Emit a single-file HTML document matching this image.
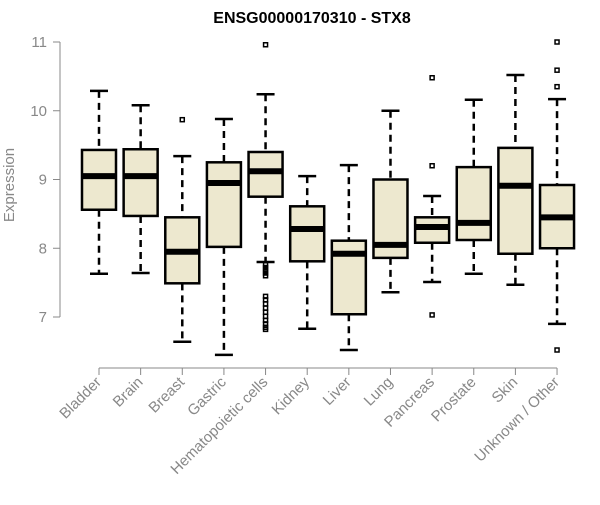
<!DOCTYPE html>
<html><head><meta charset="utf-8"><style>
body{margin:0;background:#fff}
svg{font-family:"Liberation Sans",Arial,sans-serif}
</style></head><body>
<svg id="c" width="600" height="500">
<text x="312" y="23" text-anchor="middle" font-weight="bold" font-size="16">ENSG00000170310 - STX8</text>
<text transform="translate(14,185) rotate(-90)" text-anchor="middle" font-size="15" fill="#888">Expression</text>
</svg>
<script>
const categories=["Bladder","Brain","Breast","Gastric","Hematopoietic cells","Kidney","Liver","Lung","Pancreas","Prostate","Skin","Unknown / Other"];
const whiskerHigh=[10.29,10.08,9.34,9.88,10.24,9.05,9.21,10.0,8.76,10.16,10.52,10.17];
const q3=[9.43,9.44,8.45,9.25,9.40,8.61,8.11,9.0,8.45,9.18,9.46,8.92];
const medians=[9.05,9.05,7.95,8.95,9.12,8.28,7.92,8.05,8.31,8.37,8.91,8.45];
const q1=[8.56,8.47,7.49,8.02,8.75,7.81,7.04,7.86,8.08,8.12,7.92,8.0];
const whiskerLow=[7.63,7.64,6.64,6.45,7.80,6.83,6.52,7.36,7.51,7.63,7.47,6.9];
const outliers=[[],[],[9.87],[],[10.96,7.76,7.72,7.68,7.64,7.6,7.3,7.25,7.19,7.13,7.07,7.01,6.95,6.9,6.85,6.82],[],[],[],[10.48,9.2,7.03],[],[],[11.0,10.59,10.35,6.52]];
const yTicks=[7,8,9,10,11];
const NS="http://www.w3.org/2000/svg";
const svg=document.getElementById('c');
const y=v=>317-(v-7)*68.75;
const x=i=>99+i*41.64;
function mk(t,a,p){const e=document.createElementNS(NS,t);for(const k in a)e.setAttribute(k,a[k]);(p||svg).appendChild(e);return e;}
let g=mk('g',{});


mk('line',{x1:60,x2:60,y1:y(11),y2:y(7),stroke:'#888'},g);
yTicks.forEach(t=>{mk('line',{x1:53,x2:60,y1:y(t),y2:y(t),stroke:'#888'},g);
const tx=mk('text',{x:47,y:y(t)+5,'text-anchor':'end','font-size':15,fill:'#888'},g);tx.textContent=t;

});
let xa=mk('g',{});


mk('line',{x1:x(0),x2:x(11),y1:368,y2:368,stroke:'#888'},xa);
categories.forEach((c,i)=>{
mk('line',{x1:x(i),x2:x(i),y1:368,y2:375,stroke:'#888'},xa);
const t=mk('text',{transform:`translate(${x(i)+3},${383}) rotate(-45)`,'text-anchor':'end','font-size':15,fill:'#888'},xa);t.textContent=c;


const b=mk('g',{});


const cx=x(i),w=17;
mk('line',{x1:cx,x2:cx,y1:y(whiskerHigh[i]),y2:y(q3[i]),stroke:'#000','stroke-width':2.5,'stroke-dasharray':'7,5'},b);
mk('line',{x1:cx,x2:cx,y1:y(q1[i]),y2:y(whiskerLow[i]),stroke:'#000','stroke-width':2.5,'stroke-dasharray':'7,5'},b);
mk('line',{x1:cx-9,x2:cx+9,y1:y(whiskerHigh[i]),y2:y(whiskerHigh[i]),stroke:'#000','stroke-width':2.5},b);
mk('line',{x1:cx-9,x2:cx+9,y1:y(whiskerLow[i]),y2:y(whiskerLow[i]),stroke:'#000','stroke-width':2.5},b);
mk('rect',{x:cx-w,y:y(q3[i]),width:2*w,height:y(q1[i])-y(q3[i]),fill:'#ede8cf',stroke:'#000','stroke-width':2.5},b);
mk('line',{x1:cx-w,x2:cx+w,y1:y(medians[i]),y2:y(medians[i]),stroke:'#000','stroke-width':6},b);
outliers[i].forEach(v=>{const o=mk('rect',{x:cx-2,y:y(v)-2,width:4,height:4,fill:'none',stroke:'#000','stroke-width':1.5},b);

});
});
</script>
</body></html>
